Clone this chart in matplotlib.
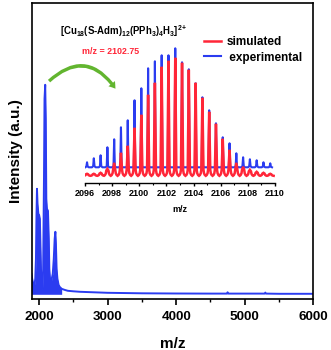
import matplotlib
matplotlib.use("Agg")
import matplotlib.pyplot as plt
from matplotlib.patches import FancyArrowPatch
import numpy as np

plt.rcParams['font.family'] = ['Liberation Sans', 'DejaVu Sans']
plt.rcParams['mathtext.fontset'] = 'custom'
plt.rcParams['mathtext.rm'] = 'Liberation Sans'
plt.rcParams['mathtext.bf'] = 'Liberation Sans:bold'
plt.rcParams['mathtext.it'] = 'Liberation Sans:italic'

BLUE = '#2b3cf0'
RED = '#ff2638'
GREEN = '#62b52f'

# full ESI-MS spectrum (intensity, arbitrary units)
spec_mz = [1890, 1900, 1915, 1930, 1945, 1955, 1962, 1970, 1978, 1990, 2000, 2012,
           2022, 2030, 2040, 2050, 2060, 2072, 2080, 2090, 2098, 2106, 2115, 2130,
           2142, 2150, 2162, 2175, 2185, 2200, 2215, 2228, 2238, 2246, 2256, 2268,
           2285, 2300, 2330, 2370, 2420, 2500, 2600, 2800, 3000, 3500, 4000, 4500,
           4740, 4750, 4760, 5000, 5290, 5300, 5310, 5500, 6000]
spec_int = [25, 20, 15, 12, 20, 40, 80, 110, 95, 85, 84, 80,
            50, 25, 12, 10, 30, 120, 200, 214, 180, 100, 90, 88,
            60, 30, 18, 14, 20, 25, 40, 60, 67, 55, 30, 20,
            14, 12, 10, 9, 8, 7.5, 7, 6.5, 6, 5.5, 5.3, 5.2,
            5.2, 6.5, 5.2, 5.2, 5.2, 6.2, 5.2, 5, 5]

# isotope pattern of the 2+ ion (inset)
iso_mz = [2096.15, 2096.65, 2097.15, 2097.65, 2098.15, 2098.65, 2099.15,
          2099.65, 2100.15, 2100.65, 2101.15, 2101.65, 2102.15, 2102.65,
          2103.15, 2103.65, 2104.15, 2104.65, 2105.15, 2105.65, 2106.15,
          2106.65, 2107.15, 2107.65, 2108.15, 2108.65, 2109.15, 2109.65]
exp_int = [5, 9, 12, 20, 28, 40, 47, 67, 79, 99, 106, 112, 112, 119,
           105, 98, 84, 70, 57, 44, 30, 24, 14, 10, 8, 7, 5, 4]
sim_int = [2, 2, 3, 7, 13, 23, 30, 48, 61, 81, 93, 109, 115, 118,
           113, 106, 93, 78, 64, 52, 37, 26, 13, 9, 6, 4, 3, 2]

main_ticks = [2000, 3000, 4000, 5000, 6000]
inset_ticks = [2096, 2098, 2100, 2102, 2104, 2106, 2108, 2110]


def peak_trace(centers, heights, offsets, lifts, base):
	# each peak drawn as a sharp top on a small pedestal
	xs, ys = [], []
	for c, h in zip(centers, heights):
		scale = min(1.0, h / 8.0)
		for dx, lift in zip(offsets, lifts):
			xs.append(c + dx)
			ys.append(base + (h if lift is None else lift * scale))
	return xs, ys


fig = plt.figure(figsize=(3.31, 3.5), dpi=100)
ax = fig.add_axes([31.5/331, 1 - 298.8/350, (313.3 - 31.5)/331, (298.8 - 2.5)/350])

ax.fill_between(spec_mz, 4.5, spec_int, where=np.array(spec_mz) <= 2330,
                color=BLUE, lw=0)
ax.plot(spec_mz, spec_int, color=BLUE, lw=1.4)
ax.set_xlim(1890, 6000)
ax.set_ylim(0, 296.3)
ax.set_yticks([])
ax.set_xticks(main_ticks)
ax.set_xticks([2500, 3500, 4500, 5500], minor=True)
ax.tick_params(axis='x', which='major', direction='out', length=4, width=1.2,
               labelsize=9.7, pad=5)
ax.tick_params(axis='x', which='minor', direction='out', length=2.5, width=1.0)
for lab in ax.get_xticklabels():
	lab.set_fontweight('bold')
for sp in ax.spines.values():
	sp.set_linewidth(1.2)
ax.set_xlabel('m/z', fontsize=11, fontweight='bold', labelpad=10)
ax.set_ylabel('Intensity (a.u.)', fontsize=11, fontweight='bold', labelpad=6)

# inset
ins = fig.add_axes([85/331, 1 - 183.3/350, 190/331, 137.3/350])
ins.patch.set_alpha(0)
bx, by = peak_trace(iso_mz, exp_int, [-0.13, -0.05, 0, 0.05, 0.13],
                    [0, 1.2, None, 1.2, 0], 16)
rx, ry = peak_trace(iso_mz, sim_int,
                    [-0.25, -0.18, -0.12, -0.08, 0, 0.08, 0.12, 0.18, 0.25],
                    [0, 0.8, 2.5, 6, None, 6, 2.5, 0.8, 0], 7.5)
l_exp, = ins.plot(bx, by, color=BLUE, lw=1.5)
l_sim, = ins.plot(rx, ry, color=RED, lw=1.8, solid_joinstyle='miter')
ins.set_xlim(2096, 2110)
ins.set_ylim(0, 137.3)
ins.set_yticks([])
ins.set_xticks(inset_ticks)
ins.set_xticks(range(2097, 2110, 2), minor=True)
for s in ['top', 'left', 'right']:
	ins.spines[s].set_visible(False)
ins.spines['bottom'].set_linewidth(1.0)
ins.tick_params(axis='x', which='major', direction='out', length=2.5, width=1.0,
                labelsize=6.5, pad=1.5)
ins.tick_params(axis='x', which='minor', direction='out', length=1.5, width=0.8)
for lab in ins.get_xticklabels():
	lab.set_fontweight('bold')
ins.set_xlabel('m/z', fontsize=6.5, fontweight='bold', labelpad=5)

fig.legend([l_sim, l_exp], ['simulated', ' experimental'], loc='upper left',
           bbox_to_anchor=(204/331, 1 - 36/350), frameon=False,
           prop={'size': 8.5, 'weight': 'bold'}, handlelength=1.45,
           handletextpad=0.45, labelspacing=0.3, borderpad=0, borderaxespad=0)

fig.text(60/331, 1 - 35/350,
         r'$\mathbf{[Cu_{18}(S}$-$\mathbf{Adm)_{12}(PPh_{3})_{4}H_{3}]^{2+}}$',
         fontsize=6.9, fontweight='bold', va='baseline', ha='left')
fig.text(82/331, 1 - 52/350, 'm/z = 2102.75', color=RED, fontsize=6.4,
         fontweight='bold', va='center', ha='left')

arrow = FancyArrowPatch((47/331, 1 - 83/350), (117/331, 1 - 91/350),
                        transform=fig.transFigure,
                        connectionstyle='arc3,rad=-0.6',
                        arrowstyle='simple,head_width=6,head_length=4.5,tail_width=2.4',
                        color=GREEN, lw=0)
fig.patches.append(arrow)

fig.savefig('out.png', dpi=100)
